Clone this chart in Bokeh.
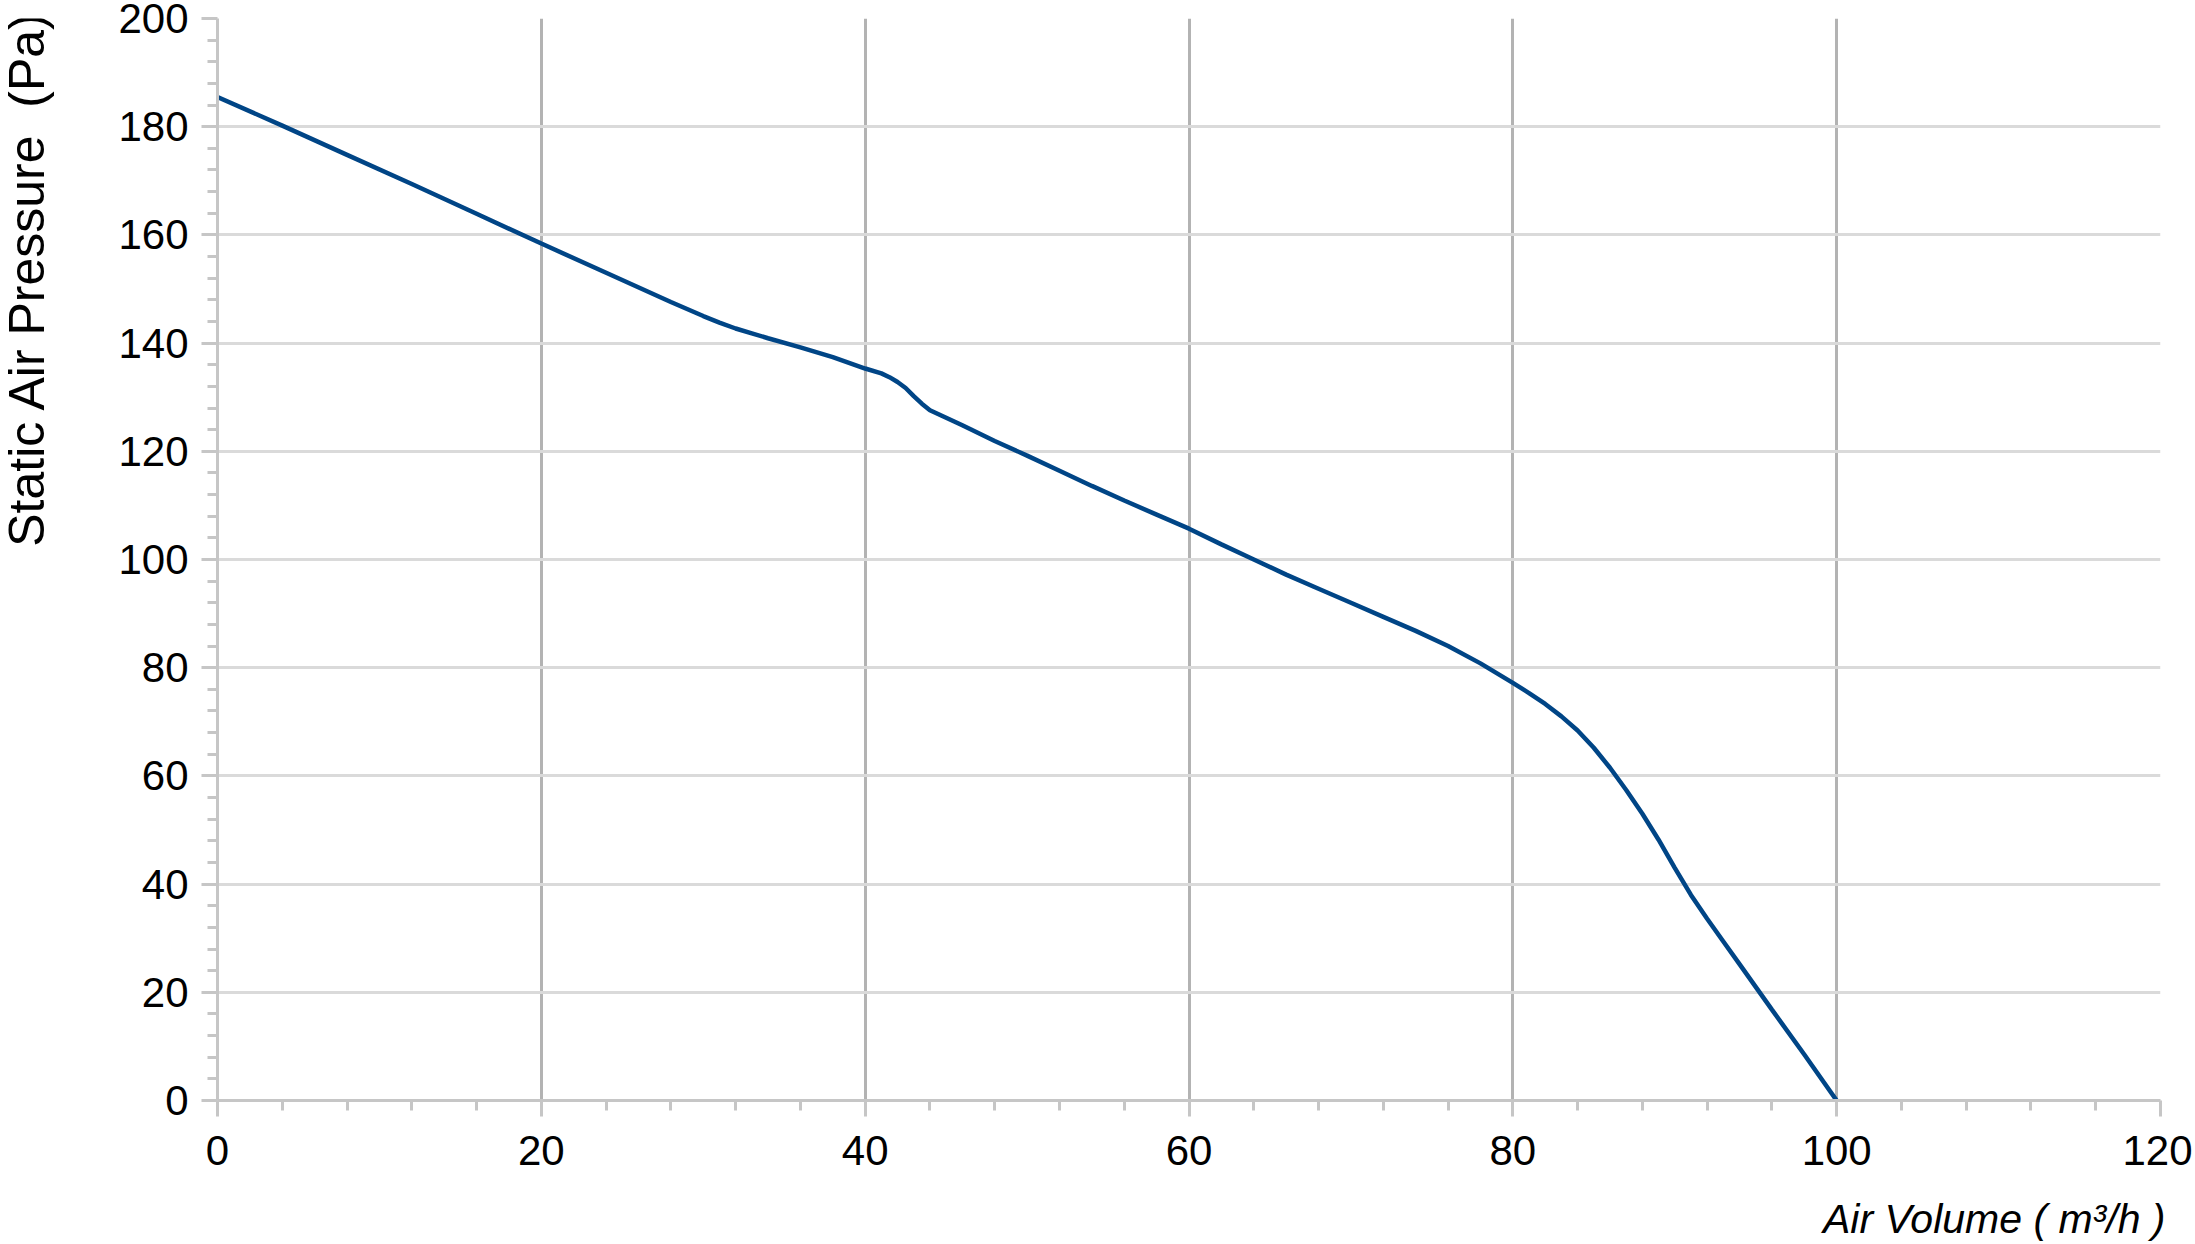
import math
from bokeh.plotting import figure
from bokeh.layouts import column, row
from bokeh.embed import file_html
from bokeh.resources import INLINE
from bokeh.models import Range1d, FixedTicker, Label

# Data
air_volume = [0, 4, 8, 12, 16, 20, 24, 28, 30, 31, 32, 33, 34, 36, 38, 40, 41, 41.5,
              42, 42.5, 43, 43.5, 44, 44.5, 45, 46, 48, 50, 52, 54, 56, 58, 60, 62,
              64, 66, 68, 70, 72, 74, 76, 78, 80, 81, 82, 83, 84, 85, 86, 87, 88,
              89, 90, 91, 92, 93, 94, 96, 98, 100]
static_pressure = [185.5, 180.2, 174.8, 169.4, 163.9, 158.4, 153.0, 147.6, 145.0, 143.8,
                   142.7, 141.8, 140.9, 139.2, 137.4, 135.3, 134.4, 133.7, 132.8, 131.7,
                   130.2, 128.8, 127.6, 126.9, 126.2, 124.8, 121.9, 119.2, 116.4, 113.6,
                   110.9, 108.3, 105.7, 102.8, 100.0, 97.2, 94.6, 92.0, 89.4, 86.8,
                   84.0, 80.8, 77.2, 75.3, 73.3, 71.0, 68.4, 65.2, 61.5, 57.4, 53.0,
                   48.2, 43.0, 38.0, 33.6, 29.4, 25.2, 16.8, 8.5, 0.0]
x_ticks = [0, 20, 40, 60, 80, 100, 120]
y_ticks = [0, 20, 40, 60, 80, 100, 120, 140, 160, 180, 200]
x_minor = [v for v in range(0, 121, 4) if v % 20]
y_minor = [v for v in range(0, 201, 4) if v % 20]
x_title = "Air Volume ( m³/h )"
y_title = "Static Air Pressure \u00a0(Pa)"   # double space kept visible in SVG

FONT = "Liberation Sans"
TOTAL_W, TOTAL_H = 2192, 1242
LEFT_W = 60          # strip holding the y-axis title
BOTTOM_H = 55        # strip holding the x-axis title
MAIN_H = TOTAL_H - BOTTOM_H

# ---- main chart ----
p = figure(width=TOTAL_W - LEFT_W, height=MAIN_H, output_backend="svg",
           toolbar_location=None, x_range=Range1d(0, 120), y_range=Range1d(0, 200),
           min_border_left=217 - LEFT_W, min_border_right=32, min_border_top=18,
           min_border_bottom=MAIN_H - 1100)
p.outline_line_color = None
p.background_fill_color = "white"

p.line(air_volume, static_pressure, line_color="#004586", line_width=4.5)

p.xaxis.ticker = FixedTicker(ticks=x_ticks, minor_ticks=x_minor)
p.yaxis.ticker = FixedTicker(ticks=y_ticks, minor_ticks=y_minor)
for ax in (p.xaxis[0], p.yaxis[0]):
    ax.axis_line_color = "#c6c6c6"
    ax.axis_line_width = 3
    ax.major_tick_line_color = "#c6c6c6"
    ax.major_tick_line_width = 3
    ax.minor_tick_line_color = "#c6c6c6"
    ax.minor_tick_line_width = 3
    ax.major_tick_in = 0
    ax.major_tick_out = 16
    ax.minor_tick_in = 0
    ax.minor_tick_out = 10
    ax.major_label_text_font = FONT
    ax.major_label_text_font_size = "42px"
    ax.major_label_text_color = "black"
p.xaxis.major_label_standoff = 19
p.yaxis.major_label_standoff = 13

p.xgrid.grid_line_color = "#b3b3b3"
p.xgrid.grid_line_width = 3
p.ygrid.grid_line_color = "#dadada"
p.ygrid.grid_line_width = 3

# ---- y-axis title strip (left) ----
fy = figure(width=LEFT_W, height=MAIN_H, output_backend="svg", toolbar_location=None,
            x_axis_type=None, y_axis_type=None, min_border=0,
            x_range=Range1d(0, LEFT_W), y_range=Range1d(0, MAIN_H))
fy.outline_line_color = None
fy.grid.visible = False
fy.add_layout(Label(x=-2, y=MAIN_H - 97, x_units="screen", y_units="screen",
                    text=y_title, text_font=FONT, text_font_size="50px",
                    text_color="black", angle=math.pi / 2,
                    text_align="right", text_baseline="top"))

# ---- x-axis title strip (bottom) ----
fx = figure(width=TOTAL_W, height=BOTTOM_H, output_backend="svg", toolbar_location=None,
            x_axis_type=None, y_axis_type=None, min_border=0,
            x_range=Range1d(0, TOTAL_W), y_range=Range1d(0, BOTTOM_H))
fx.outline_line_color = None
fx.grid.visible = False
fx.add_layout(Label(x=2165, y=24, x_units="screen", y_units="screen",
                    text=x_title, text_font=FONT, text_font_size="41px",
                    text_font_style="italic", text_color="black",
                    text_align="right", text_baseline="alphabetic"))

layout = column(row(fy, p, spacing=0), fx, spacing=0)
open("out.html", "w").write(file_html(layout, INLINE))
